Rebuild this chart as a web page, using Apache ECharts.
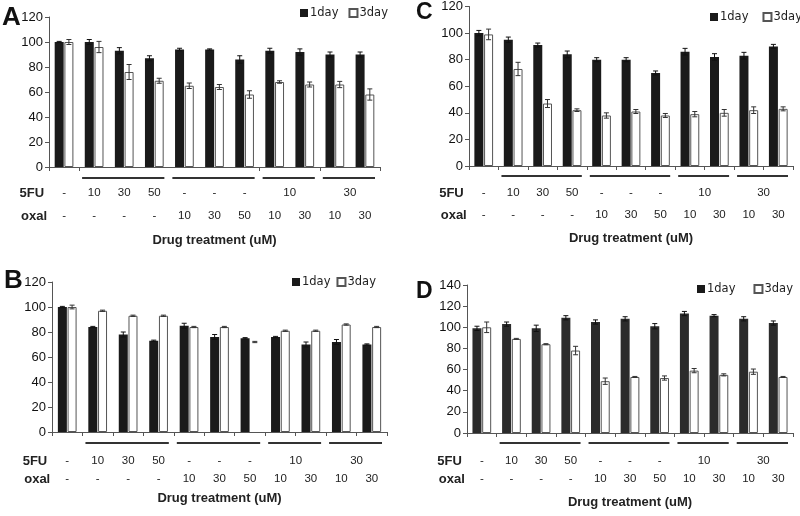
<!DOCTYPE html>
<html>
<head>
<meta charset="utf-8">
<script src="https://cdn.jsdelivr.net/npm/echarts@6/dist/echarts.min.js"></script>
<style>
html,body{margin:0;padding:0;background:#fff;}
#chart{width:800px;height:516px;}
</style>
</head>
<body>
<div id="chart"></div>
<script>
// ---------- DATA ----------
const categories = ['ctrl','5FU10','5FU30','5FU50','ox10','ox30','ox50','5FU10+ox10','5FU10+ox30','5FU30+ox10','5FU30+ox30'];
const seriesNames = ['1day','3day'];
const fuText = ['-','10','30','50','-','-','-','10','30'];
const fuFrom = [0,1,2,3,4,5,6,7,9];
const fuTo   = [0,1,2,3,4,5,6,8,10];
const oxalText = ['-','-','-','-','10','30','50','10','30','10','30'];
const lineFrom = [1,4,7,9];
const lineTo   = [3,6,8,10];
const rowNames = ['5FU','oxal'];
const xTitle = 'Drug treatment (uM)';
const panelLetters = ['A','B','C','D'];

const A1 = [100,100,93,87,94,94,86,93,92,90,90];
const A1err = [0.5,2,2.5,2,1,0.5,3,2,2.5,2,2];
const A3 = [100,96,76,69,65,64,58,68,66,66,58];
const A3err = [2,4.5,6,2,2.2,2,3,1,2,2.5,4.5];

const B1 = [100,84,78,73,85,76,75,76,70,72,70];
const B1err = [0.5,0.5,2,0.5,2,2,0.5,0.5,2,2,0.5];
const B3 = [100,97,93,93,84,84,72,81,81,86,84];
const B3err = [1.5,0.5,0.5,0.5,0.5,0.5,0.5,0.5,0.5,0.5,0.5];

const C1 = [100,95,91,84,80,80,70,86,82,83,90];
const C1err = [2,2,1.5,2.5,1.5,1.5,1.5,2.5,2.5,2.5,1.5];
const C3 = [99,73,47,42,38,41,38,39,40,42,43];
const C3err = [4,5,3,1,2,1.5,1.5,2,2.5,2.5,1.5];

const D1 = [99,103,99,109,105,108,101,113,111,108,104];
const D1err = [2,2,3,2,2,2,2.5,2,1,2,2];
const D3 = [100,89,84,78,49,53,52,59,55,58,53];
const D3err = [5,0.5,0.5,4,3,0.5,2,2,1,2.5,0.5];

// ---------- LAYOUT / STYLE ----------
const BAR_W = 9, GAP_FRAC = 0.08;
const OFF = (BAR_W + BAR_W*GAP_FRAC)/2;
const panels = [
  {d1:A1,e1:A1err,d3:A3,e3:A3err,grid:{left:49,top:17,width:331,height:150},ymax:120,
   legend:{left:300,top:7,itemGap:10}, title:{left:2,top:5,size:26},
   rows:{line:11,fu:26,ox:49,drug:73}, ticks:[0,1,7,9], black:'#1a1a1a', hide3:[]},
  {d1:B1,e1:B1err,d3:B3,e3:B3err,grid:{left:52,top:282,width:335,height:150},ymax:120,
   legend:{left:292,top:276,itemGap:6}, title:{left:4,top:268,size:26},
   rows:{line:11,fu:29,ox:47,drug:66}, ticks:null, black:'#1a1a1a', hide3:[6]},
  {d1:C1,e1:C1err,d3:C3,e3:C3err,grid:{left:469,top:6,width:324,height:160},ymax:120,
   legend:{left:710,top:11,itemGap:14}, title:{left:416,top:1,size:23},
   rows:{line:10,fu:27,ox:49,drug:72}, ticks:null, black:'#1a1a1a', hide3:[]},
  {d1:D1,e1:D1err,d3:D3,e3:D3err,grid:{left:467,top:285,width:326,height:148},ymax:140,
   legend:{left:697,top:283,itemGap:18}, title:{left:416,top:280,size:23},
   rows:{line:10,fu:28,ox:46,drug:69}, ticks:null, black:'#2b2b2b', hide3:[]}
];

const NUM_FONT = "11.5px 'Liberation Sans', Arial, sans-serif";
const BOLD_FONT = "bold 13px 'Liberation Sans', Arial, sans-serif";

function errRender(sign, color){
  return function(params, api){
    const i = api.value(0), v = api.value(1), e = api.value(2);
    const t = api.coord([i, v+e]);
    const b = api.coord([i, v-e]);
    const x = t[0] + sign*OFF;
    const cw = 2.5;
    const st = {stroke: color, lineWidth: 1};
    return {type:'group', children:[
      {type:'line', shape:{x1:x,y1:t[1],x2:x,y2:b[1]}, style:st},
      {type:'line', shape:{x1:x-cw,y1:t[1],x2:x+cw,y2:t[1]}, style:st},
      {type:'line', shape:{x1:x-cw,y1:b[1],x2:x+cw,y2:b[1]}, style:st}
    ]};
  };
}

function annotRender(p){
  return function(params, api){
    const band = api.size([1,0])[0];
    const y0 = api.coord([0,0])[1];
    const cx = i => api.coord([i,0])[0];
    const ch = [];
    fuText.forEach((t,k)=>{
      ch.push({type:'text', style:{text:t, x:(cx(fuFrom[k])+cx(fuTo[k]))/2, y:y0+p.rows.fu,
        align:'center', verticalAlign:'middle', font:NUM_FONT, fill:'#222'}});
    });
    oxalText.forEach((t,k)=>{
      ch.push({type:'text', style:{text:t, x:cx(k), y:y0+p.rows.ox,
        align:'center', verticalAlign:'middle', font:NUM_FONT, fill:'#222'}});
    });
    ch.push({type:'text', style:{text:rowNames[0], x:cx(0)-20, y:y0+p.rows.fu,
      align:'right', verticalAlign:'middle', font:BOLD_FONT, fill:'#222'}});
    ch.push({type:'text', style:{text:rowNames[1], x:cx(0)-17, y:y0+p.rows.ox,
      align:'right', verticalAlign:'middle', font:BOLD_FONT, fill:'#222'}});
    ch.push({type:'text', style:{text:xTitle, x:cx(5), y:y0+p.rows.drug,
      align:'center', verticalAlign:'middle', font:BOLD_FONT, fill:'#222'}});
    lineFrom.forEach((f,k)=>{
      const x1 = cx(f) - band/2 + 3, x2 = cx(lineTo[k]) + band/2 - 5;
      ch.push({type:'line', shape:{x1, y1:y0+p.rows.line, x2, y2:y0+p.rows.line},
        style:{stroke:'#333', lineWidth:2}});
    });
    return {type:'group', children:ch};
  };
}

const option = {
  animation:false,
  backgroundColor:'#fff',
  title:[], legend:[], grid:[], xAxis:[], yAxis:[], series:[]
};

panels.forEach((p, k)=>{
  option.title.push({text:panelLetters[k], left:p.title.left, top:p.title.top, padding:0,
    textStyle:{fontSize:p.title.size, fontWeight:'bold', color:'#111', fontFamily:"'Liberation Sans', Arial, sans-serif"}});
  option.legend.push({data:seriesNames, left:p.legend.left, top:p.legend.top, width:140, padding:0,
    itemWidth:8, itemHeight:8, itemGap:p.legend.itemGap, icon:'rect',
    textStyle:{fontSize:11.5, color:'#222', fontFamily:"'DejaVu Sans', sans-serif", padding:[0,0,0,-3]},
    selectedMode:false});
  option.grid.push(Object.assign({containLabel:false}, p.grid));
  option.xAxis.push({type:'category', gridIndex:k, data:categories, boundaryGap:true,
    axisLine:{lineStyle:{color:'#555', width:1}},
    axisTick:{show:true, length:4, lineStyle:{color:'#555'},
      interval: p.ticks ? ((idx)=>p.ticks.indexOf(idx) >= 0) : 0},
    axisLabel:{show:false}, splitLine:{show:false}});
  option.yAxis.push({type:'value', gridIndex:k, min:0, max:p.ymax, interval:20,
    axisLine:{show:true, lineStyle:{color:'#555', width:1}},
    axisTick:{show:true, length:4, lineStyle:{color:'#555'}},
    axisLabel:{fontSize:13, color:'#111', margin:6, fontFamily:"'Liberation Sans', Arial, sans-serif"},
    splitLine:{show:false}});
  option.series.push({name:seriesNames[0], type:'bar', xAxisIndex:k, yAxisIndex:k,
    data:p.d1, barWidth:BAR_W, barGap:(GAP_FRAC*100)+'%',
    itemStyle:{color:p.black, borderWidth:0}, z:2});
  option.series.push({name:seriesNames[1], type:'bar', xAxisIndex:k, yAxisIndex:k,
    data:p.d3.map((v,i)=> p.hide3.indexOf(i)>=0 ? {value:v, itemStyle:{color:'rgba(0,0,0,0)', borderColor:'rgba(0,0,0,0)'}} : v),
    barWidth:BAR_W, barGap:(GAP_FRAC*100)+'%',
    itemStyle:{color:'#fff', borderColor:'#555', borderWidth:1}, z:2});
  option.series.push({type:'custom', xAxisIndex:k, yAxisIndex:k, clip:false, silent:true, z:3,
    data:p.d1.map((v,i)=>[i,v,p.e1[i]]), encode:{x:0,y:1}, renderItem:errRender(-1,'#111')});
  option.series.push({type:'custom', xAxisIndex:k, yAxisIndex:k, clip:false, silent:true, z:3,
    data:p.d3.map((v,i)=>[i,v,p.e3[i]]), encode:{x:0,y:1}, renderItem:errRender(1,'#333')});
  option.series.push({type:'custom', xAxisIndex:k, yAxisIndex:k, clip:false, silent:true, z:4,
    data:[[0,0]], encode:{x:0,y:1}, renderItem:annotRender(p)});
});

const chart = echarts.init(document.getElementById('chart'), null, {renderer:'canvas'});
chart.setOption(option);
</script>
</body>
</html>
